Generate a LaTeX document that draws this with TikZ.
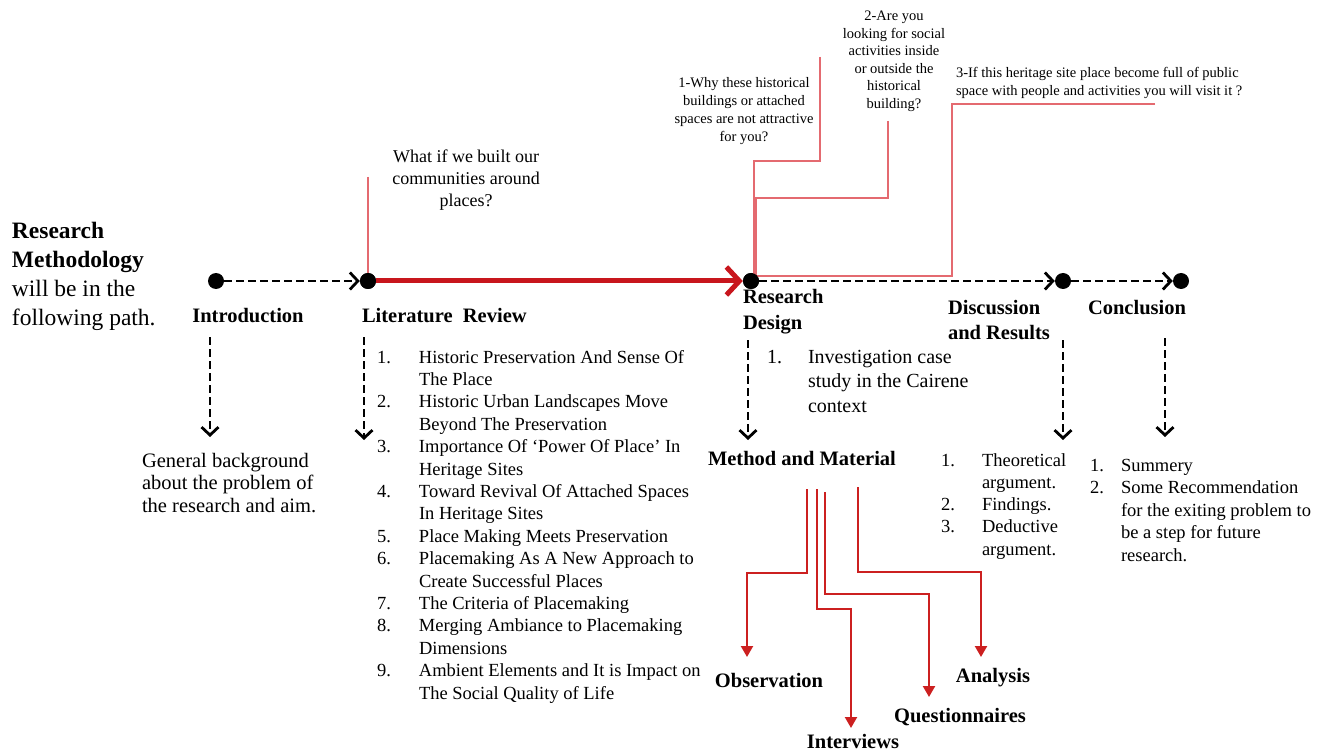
\documentclass[tikz,border=0pt]{standalone}
\usepackage{fontspec}
\setmainfont{Liberation Serif}
\usetikzlibrary{arrows.meta}
\definecolor{mainred}{HTML}{C8161D}
\definecolor{thinred}{HTML}{E46A70}
\definecolor{methred}{HTML}{CC2020}
\tikzset{
  dot/.style={circle,fill=black,inner sep=0pt,minimum size=16pt},
  flow/.style={line width=2.8pt,dash pattern=on 8pt off 4pt,
    -{Straight Barb[length=8pt,width=17pt,line width=0pt 1]}},
  mainflow/.style={line width=5pt,color=mainred,
    -{Straight Barb[length=13pt,width=28pt,line width=0pt 1]}},
  qline/.style={line width=1.5pt,color=thinred},
  mline/.style={line width=2.2pt,color=methred,-{Triangle[length=11pt,width=12pt]}},
  txt/.style={inner sep=0pt,outer sep=0pt},
  blab/.style={txt,font=\fontsize{20.5}{25}\selectfont\bfseries},
}
\begin{document}
\begin{tikzpicture}[x=1pt,y=-1pt]
\useasboundingbox[fill=white] (0,0) rectangle (1325,751);

% main path dots
\node[dot] (intro) at (216,281) {};
\node[dot] (lit) at (368,281) {};
\node[dot] (rd) at (751,281) {};
\node[dot] (disc) at (1063,281) {};
\node[dot] (concl) at (1181,281) {};

% question lines
\coordinate (q1a) at (820,57);
\coordinate (q1b) at (754,161);
\coordinate (q2a) at (888,121);
\coordinate (q2b) at (756,198);
\coordinate (q3a) at (1155,104);
\coordinate (q3b) at (952,276);
\coordinate (wa) at (368,177);
\draw[qline] (wa) -- (lit.center);
\draw[qline] (q1a) |- (q1b) -- (q1b |- rd.center);
\draw[qline] (q2a) |- (q2b) -- (q2b |- rd.center);
\draw[qline] (q3a) -| (q3b) -- (rd.center |- q3b);

\draw[flow] (intro) -- (lit);
\draw[mainflow] (lit.east) -- (rd.west);
\draw[flow] (rd) -- (disc);
\draw[flow] (disc) -- (concl);
\node[dot] at (rd) {};
\node[dot] at (lit) {};

% headings
\node[txt,anchor=base west,align=left] (rm) at (12,239)
  {\fontsize{23.5}{29}\selectfont\begin{tabular}[t]{@{}l@{}}\textbf{Research}\\\textbf{Methodology}\\will be in the\\following path.\end{tabular}};
\node[blab,anchor=base] (introlab) at (248,323) {Introduction};
\node[blab,anchor=base west] (litlab) at (362,323) {Literature\ \ Review};
\node[blab,anchor=base west] (rdlab) at (743,304) {\begin{tabular}[t]{@{}l@{}}Research\\Design\end{tabular}};
\node[blab,anchor=base west] (disclab) at (948,314) {\begin{tabular}[t]{@{}l@{}}Discussion\\and Results\end{tabular}};
\node[blab,anchor=base west] (concllab) at (1088,314) {Conclusion};
\node[blab,anchor=base west] (mm) at (708,465) {Method and Material};

% questions
\node[txt,anchor=base] (wi) at (466,163)
  {\fontsize{18}{22}\selectfont\begin{tabular}[t]{@{}c@{}}What if we built our\\communities around\\places?\end{tabular}};
\node[txt,anchor=base] (q1) at (744,88)
  {\fontsize{14.5}{18}\selectfont\begin{tabular}[t]{@{}c@{}}1-Why these historical\\buildings or attached\\spaces are not attractive\\for you?\end{tabular}};
\node[txt,anchor=base] (q2) at (894,21)
  {\fontsize{14.5}{17.5}\selectfont\begin{tabular}[t]{@{}c@{}}2-Are you\\looking for social\\activities inside\\or outside the\\historical\\building?\end{tabular}};
\node[txt,anchor=base west] (q3) at (956,78)
  {\fontsize{14.5}{17.5}\selectfont\begin{tabular}[t]{@{}l@{}}3-If this heritage site place become full of public\\space with people and activities you will visit it ?\end{tabular}};

% vertical dashed arrows
\coordinate (ia) at (210,337); \coordinate (ib) at (210,437);
\coordinate (la) at (364,337); \coordinate (lb) at (364,440);
\coordinate (ra) at (748,340); \coordinate (rb) at (748,440);
\coordinate (da) at (1063,340); \coordinate (db) at (1063,440);
\coordinate (ca) at (1165,338); \coordinate (cb) at (1165,437);
\draw[flow] (ia) -- (ib);
\draw[flow] (la) -- (lb);
\draw[flow] (ra) -- (rb);
\draw[flow] (da) -- (db);
\draw[flow] (ca) -- (cb);

% text blocks
\node[txt,anchor=base west] (gb) at (142,467)
  {\fontsize{20.5}{22.5}\selectfont\begin{tabular}[t]{@{}l@{}}General background\\about the problem of\\the research and aim.\end{tabular}};
\node[txt,anchor=base west] (litlist) at (377,363)
  {\fontsize{18.5}{22.4}\selectfont\begin{tabular}[t]{@{}p{42pt}@{}l@{}}
1. & Historic Preservation And Sense Of\\
   & The Place\\
2. & Historic Urban Landscapes Move\\
   & Beyond The Preservation\\
3. & Importance Of ‘Power Of Place’ In\\
   & Heritage Sites\\
4. & Toward Revival Of Attached Spaces\\
   & In Heritage Sites\\
5. & Place Making Meets Preservation\\
6. & Placemaking As A New Approach to\\
   & Create Successful Places\\
7. & The Criteria of Placemaking\\
8. & Merging Ambiance to Placemaking\\
   & Dimensions\\
9. & Ambient Elements and It is Impact on\\
   & The Social Quality of Life
\end{tabular}};
\node[txt,anchor=base west] (rdlist) at (767,363)
  {\fontsize{20}{24.5}\selectfont\begin{tabular}[t]{@{}p{41pt}@{}l@{}}
1. & Investigation case\\
   & study in the Cairene\\
   & context
\end{tabular}};
\node[txt,anchor=base west] (disclist) at (941,466)
  {\fontsize{18.5}{22.3}\selectfont\begin{tabular}[t]{@{}p{41pt}@{}l@{}}
1. & Theoretical\\
   & argument.\\
2. & Findings.\\
3. & Deductive\\
   & argument.
\end{tabular}};
\node[txt,anchor=base west] (concllist) at (1090,471)
  {\fontsize{18.5}{22.5}\selectfont\begin{tabular}[t]{@{}p{31pt}@{}l@{}}
1. & Summery\\
2. & Some Recommendation\\
   & for the exiting problem to\\
   & be a step for future\\
   & research.
\end{tabular}};

% method branches
\node[blab,anchor=base] (obs) at (769,687) {Observation};
\node[blab,anchor=base] (intv) at (853,748) {Interviews};
\node[blab,anchor=base] (quest) at (960,722) {Questionnaires};
\node[blab,anchor=base] (ana) at (993,682) {Analysis};
\coordinate (o1) at (807,489); \coordinate (o2) at (747,573); \coordinate (o3) at (747,657);
\coordinate (i1) at (817,489); \coordinate (i2) at (851,609); \coordinate (i3) at (851,728);
\coordinate (u1) at (825,492); \coordinate (u2) at (929,594); \coordinate (u3) at (929,697);
\coordinate (a1) at (858,487); \coordinate (a2) at (981,572); \coordinate (a3) at (981,657);
\draw[mline] (o1) |- (o2) -- (o3);
\draw[mline] (i1) |- (i2) -- (i3);
\draw[mline] (u1) |- (u2) -- (u3);
\draw[mline] (a1) |- (a2) -- (a3);
\end{tikzpicture}
\end{document}
